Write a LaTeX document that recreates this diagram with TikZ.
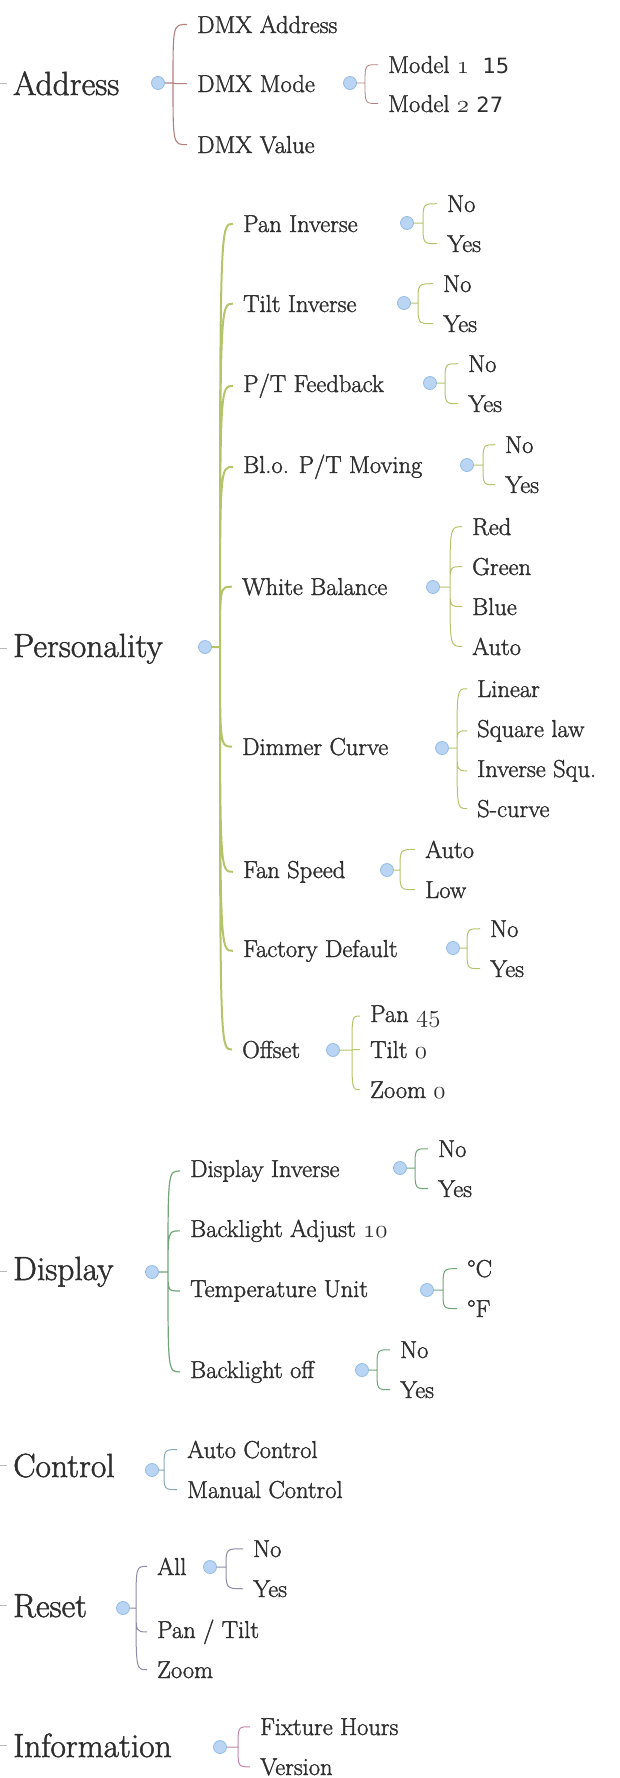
\documentclass[tikz,border=0pt]{standalone}
\usepackage{fontspec}
\setmainfont{Latin Modern Roman}[FakeBold=1.5]
\newfontfamily\numfont{DejaVu Sans}[Scale=0.86]
\newcommand\osn[1]{{\usefont{OML}{lmm}{m}{it}#1}}
\usetikzlibrary{positioning}

\definecolor{ink}{HTML}{2E2E2E}
\definecolor{addrcol}{HTML}{B57F7F}
\definecolor{perscol}{HTML}{B4C46A}
\definecolor{dispcol}{HTML}{6FA677}
\definecolor{ctrlcol}{HTML}{86A9B8}
\definecolor{resetcol}{HTML}{8E8AA8}
\definecolor{infocol}{HTML}{C584A8}
\definecolor{knobfill}{HTML}{B9D5F3}
\definecolor{knobline}{HTML}{93BBE6}

\tikzset{
  topic/.style={anchor=base west, inner xsep=6pt, inner ysep=0pt, xshift=-6pt,
    text=ink, font=\fontsize{33.5}{38}\selectfont},
  item/.style={anchor=base west, inner xsep=10pt, inner ysep=0pt, xshift=-10pt,
    text=ink, font=\fontsize{24.5}{28}\selectfont},
  knob/.style={circle, minimum size=13pt, inner sep=0pt, fill=knobfill,
    draw=knobline, line width=0.8pt},
  stub/.style={draw=gray!55, line width=0.8pt},
  hook/.style={to path={.. controls (\tikztostart |- \tikztotarget)
    and (\tikztostart |- \tikztotarget) .. (\tikztotarget) \tikztonodes}},
  addrline/.style={draw=addrcol, line width=1.1pt},
  persline/.style={draw=perscol, line width=1pt},
  displine/.style={draw=dispcol, line width=1pt},
  ctrlline/.style={draw=ctrlcol, line width=1pt},
  resetline/.style={draw=resetcol, line width=1pt},
  infoline/.style={draw=infocol, line width=1pt},
}

\begin{document}
\begin{tikzpicture}[x=1pt, y=-1pt]
\useasboundingbox (0,0) rectangle (619,1778);

% Define nodes
\path
% Address
(13,95) node[topic] (address) {Address}
(address.west) +(-7,0) coordinate (address-in)
(158,83) node[knob] (address-k) {}
(address-k) +(15,0) coordinate (address-bar)
(197,33) node[item] (dmxaddr) {DMX Address}
(197,92) node[item] (dmxmode) {DMX Mode}
(197,153) node[item] (dmxval) {DMX Value}
(350,83) node[knob] (dmxmode-k) {}
(dmxmode-k) +(15,0) coordinate (dmxmode-bar)
(388,73) node[item] (model1) {Model \osn{1}\hspace{0.55em}{\numfont 15}}
(388,112) node[item] (model2) {Model \osn{2} {\numfont 27}}
% Personality
(13,657) node[topic] (pers) {Personality}
(pers.west) +(-7,0) coordinate (pers-in)
(205,647) node[knob] (pers-k) {}
(pers-k) +(15,0) coordinate (pers-bar)
(243,232) node[item] (paninv) {Pan Inverse}
(407,223) node[knob] (paninv-k) {}
(paninv-k) +(16,0) coordinate (paninv-bar)
(447,212) node[item] (paninv-no) {No}
(447,252) node[item] (paninv-yes) {Yes}
(243,312) node[item] (tiltinv) {Tilt Inverse}
(404,303) node[knob] (tiltinv-k) {}
(tiltinv-k) +(14,0) coordinate (tiltinv-bar)
(443,292) node[item] (tiltinv-no) {No}
(443,332) node[item] (tiltinv-yes) {Yes}
(243,392) node[item] (ptfb) {P/T Feedback}
(430,383) node[knob] (ptfb-k) {}
(ptfb-k) +(15,0) coordinate (ptfb-bar)
(468,372) node[item] (ptfb-no) {No}
(468,412) node[item] (ptfb-yes) {Yes}
(243,473) node[item] (blo) {Bl.o. P/T Moving}
(467,465) node[knob] (blo-k) {}
(blo-k) +(16,0) coordinate (blo-bar)
(505,453) node[item] (blo-no) {No}
(505,493) node[item] (blo-yes) {Yes}
(242,595) node[item] (wb) {White Balance}
(433,587) node[knob] (wb-k) {}
(wb-k) +(17,0) coordinate (wb-bar)
(472,535) node[item] (wb-red) {Red}
(472,575) node[item] (wb-green) {Green}
(472,615) node[item] (wb-blue) {Blue}
(472,655) node[item] (wb-auto) {Auto}
(242,755) node[item] (dim) {Dimmer Curve}
(442,748) node[knob] (dim-k) {}
(dim-k) +(15,0) coordinate (dim-bar)
(477,697) node[item] (dim-lin) {Linear}
(477,737) node[item] (dim-sq) {Square law}
(477,777) node[item] (dim-inv) {Inverse Squ.}
(477,817) node[item] (dim-s) {S-curve}
(243,878) node[item] (fan) {Fan Speed}
(387,870) node[knob] (fan-k) {}
(fan-k) +(13,0) coordinate (fan-bar)
(425,858) node[item] (fan-auto) {Auto}
(425,898) node[item] (fan-low) {Low}
(243,957) node[item] (fact) {Factory Default}
(453,948) node[knob] (fact-k) {}
(fact-k) +(14,0) coordinate (fact-bar)
(490,937) node[item] (fact-no) {No}
(490,977) node[item] (fact-yes) {Yes}
(242,1058) node[item] (off) {Offset}
(333,1050) node[knob] (off-k) {}
(off-k) +(19,0) coordinate (off-bar)
(370,1022) node[item] (off-pan) {Pan \osn{45}}
(370,1058) node[item] (off-tilt) {Tilt \osn{0}}
(370,1098) node[item] (off-zoom) {Zoom \osn{0}}
% Display
(13,1280) node[topic] (disp) {Display}
(disp.west) +(-7,0) coordinate (disp-in)
(152,1272) node[knob] (disp-k) {}
(disp-k) +(16,0) coordinate (disp-bar)
(190,1177) node[item] (dinv) {Display Inverse}
(400,1168) node[knob] (dinv-k) {}
(dinv-k) +(15,0) coordinate (dinv-bar)
(438,1157) node[item] (dinv-no) {No}
(438,1197) node[item] (dinv-yes) {Yes}
(190,1237) node[item] (badj) {Backlight Adjust \osn{10}}
(190,1297) node[item] (temp) {Temperature Unit}
(427,1290) node[knob] (temp-k) {}
(temp-k) +(16,0) coordinate (temp-bar)
(467,1277) node[item] (temp-c) {°C}
(467,1317) node[item] (temp-f) {°F}
(190,1378) node[item] (boff) {Backlight off}
(362,1370) node[knob] (boff-k) {}
(boff-k) +(15,0) coordinate (boff-bar)
(400,1358) node[item] (boff-no) {No}
(400,1398) node[item] (boff-yes) {Yes}
% Control
(13,1477) node[topic] (ctrl) {Control}
(ctrl.west) +(-7,0) coordinate (ctrl-in)
(152,1470) node[knob] (ctrl-k) {}
(ctrl-k) +(12,0) coordinate (ctrl-bar)
(187,1458) node[item] (ctrl-auto) {Auto Control}
(187,1498) node[item] (ctrl-man) {Manual Control}
% Reset
(13,1617) node[topic] (reset) {Reset}
(reset.west) +(-7,0) coordinate (reset-in)
(123,1608) node[knob] (reset-k) {}
(reset-k) +(13,0) coordinate (reset-bar)
(157,1575) node[item] (all) {All}
(210,1567) node[knob] (all-k) {}
(all-k) +(16,0) coordinate (all-bar)
(253,1557) node[item] (all-no) {No}
(253,1597) node[item] (all-yes) {Yes}
(157,1638) node[item] (pantilt) {Pan / Tilt}
(157,1678) node[item] (zoom) {Zoom}
% Information
(13,1757) node[topic] (info) {Information}
(info.west) +(-7,0) coordinate (info-in)
(220,1747) node[knob] (info-k) {}
(info-k) +(18,0) coordinate (info-bar)
(260,1735) node[item] (info-hours) {Fixture Hours}
(260,1775) node[item] (info-ver) {Version}
;

% Stubs from the centre topic
\draw[stub]
(address-in) -- (address.west)
(pers-in) -- (pers.west)
(disp-in) -- (disp.west)
(ctrl-in) -- (ctrl.west)
(reset-in) -- (reset.west)
(info-in) -- (info.west)
;

% Address branch
\draw[addrline]
(address-k) -- (address-bar)
(address-bar) to[hook] (dmxaddr.west)
(address-bar) to[hook] (dmxmode.west)
(address-bar) to[hook] (dmxval.west)
;
\draw[addrline, line width=0.8pt]
(dmxmode-k) -- (dmxmode-bar)
(dmxmode-bar) to[hook] (model1.west)
(dmxmode-bar) to[hook] (model2.west)
;

% Personality branch
\draw[persline, line width=2pt]
(pers-k) -- (pers-bar)
(pers-bar) to[hook] (paninv.west)
(pers-bar) to[hook] (tiltinv.west)
(pers-bar) to[hook] (ptfb.west)
(pers-bar) to[hook] (blo.west)
(pers-bar) to[hook] (wb.west)
(pers-bar) to[hook] (dim.west)
(pers-bar) to[hook] (fan.west)
(pers-bar) to[hook] (fact.west)
(pers-bar) to[hook] (off.west)
;
\draw[persline]
(paninv-k) -- (paninv-bar)
(paninv-bar) to[hook] (paninv-no.west)
(paninv-bar) to[hook] (paninv-yes.west)
(tiltinv-k) -- (tiltinv-bar)
(tiltinv-bar) to[hook] (tiltinv-no.west)
(tiltinv-bar) to[hook] (tiltinv-yes.west)
(ptfb-k) -- (ptfb-bar)
(ptfb-bar) to[hook] (ptfb-no.west)
(ptfb-bar) to[hook] (ptfb-yes.west)
(blo-k) -- (blo-bar)
(blo-bar) to[hook] (blo-no.west)
(blo-bar) to[hook] (blo-yes.west)
(wb-k) -- (wb-bar)
(wb-bar) to[hook] (wb-red.west)
(wb-bar) to[hook] (wb-green.west)
(wb-bar) to[hook] (wb-blue.west)
(wb-bar) to[hook] (wb-auto.west)
(dim-k) -- (dim-bar)
(dim-bar) to[hook] (dim-lin.west)
(dim-bar) to[hook] (dim-sq.west)
(dim-bar) to[hook] (dim-inv.west)
(dim-bar) to[hook] (dim-s.west)
(fan-k) -- (fan-bar)
(fan-bar) to[hook] (fan-auto.west)
(fan-bar) to[hook] (fan-low.west)
(fact-k) -- (fact-bar)
(fact-bar) to[hook] (fact-no.west)
(fact-bar) to[hook] (fact-yes.west)
(off-k) -- (off-bar)
(off-bar) to[hook] (off-pan.west)
(off-bar) to[hook] (off-tilt.west)
(off-bar) to[hook] (off-zoom.west)
;

% Display branch
\draw[displine, line width=1.2pt]
(disp-k) -- (disp-bar)
(disp-bar) to[hook] (dinv.west)
(disp-bar) to[hook] (badj.west)
(disp-bar) to[hook] (temp.west)
(disp-bar) to[hook] (boff.west)
;
\draw[displine]
(dinv-k) -- (dinv-bar)
(dinv-bar) to[hook] (dinv-no.west)
(dinv-bar) to[hook] (dinv-yes.west)
(temp-k) -- (temp-bar)
(temp-bar) to[hook] (temp-c.west)
(temp-bar) to[hook] (temp-f.west)
(boff-k) -- (boff-bar)
(boff-bar) to[hook] (boff-no.west)
(boff-bar) to[hook] (boff-yes.west)
;

% Control, Reset, Information
\draw[ctrlline]
(ctrl-k) -- (ctrl-bar)
(ctrl-bar) to[hook] (ctrl-auto.west)
(ctrl-bar) to[hook] (ctrl-man.west)
;
\draw[resetline]
(reset-k) -- (reset-bar)
(reset-bar) to[hook] (all.west)
(reset-bar) to[hook] (pantilt.west)
(reset-bar) to[hook] (zoom.west)
(all-k) -- (all-bar)
(all-bar) to[hook] (all-no.west)
(all-bar) to[hook] (all-yes.west)
;
\draw[infoline]
(info-k) -- (info-bar)
(info-bar) to[hook] (info-hours.west)
(info-bar) to[hook] (info-ver.west)
;

\end{tikzpicture}
\end{document}
